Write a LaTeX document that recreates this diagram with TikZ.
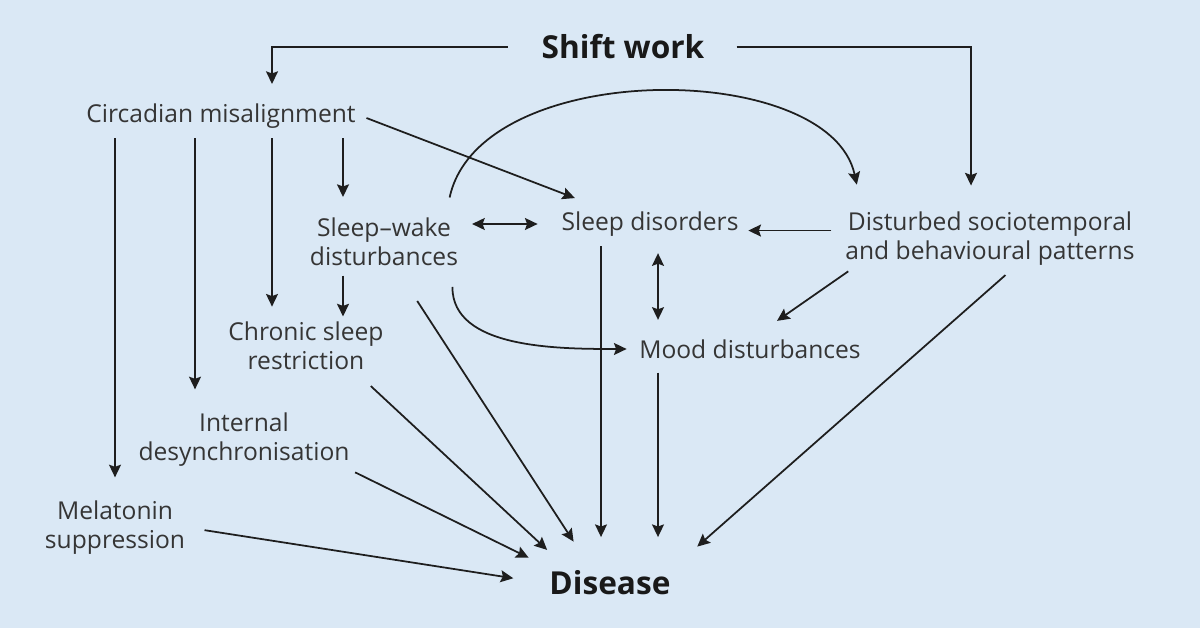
\documentclass[tikz,border=0pt]{standalone}
\usepackage{fontspec}
\setmainfont{Open Sans}
\usetikzlibrary{arrows.meta}
\definecolor{panel-bg}{HTML}{DAE8F5}
\definecolor{label-text}{HTML}{353535}
\definecolor{link-line}{HTML}{1E1E1E}

\begin{document}
\begin{tikzpicture}[x=0.025cm, y=-0.025cm,
    >={Stealth[length=9pt, width=8.5pt, inset=1.5pt]},
    box/.style={inner sep=4pt, outer sep=0pt, align=center, text=label-text,
      font=\fontsize{17.5}{20.5}\selectfont},
    key/.style={inner sep=4pt, outer sep=0pt, text=black!90,
      font=\fontsize{22.5}{26}\selectfont\bfseries},
    link/.style={draw=link-line, line width=1.25pt, ->}]
  \fill[panel-bg] (0,0) rectangle (1200,628);
  \useasboundingbox (0,0) rectangle (1200,628);

  \node[key] (shift) at (623,47) {Shift work};
  \node[box] (circ) at (221,116) {Circadian misalignment};
  \node[box] (sw) at (384,242) {Sleep–wake\\disturbances};
  \node[box] (sd) at (650,224) {Sleep disorders};
  \node[box] (dsp) at (990,239) {Disturbed sociotemporal\\and behavioural patterns};
  \node[box] (csr) at (306,346) {Chronic sleep\\restriction};
  \node[box] (mood) at (750,349) {Mood disturbances};
  \node[box] (ids) at (244,440) {Internal\\desynchronisation};
  \node[box] (mel) at (115,528) {Melatonin\\suppression};
  \node[key] (dis) at (610,583) {Disease};

  % shift work
  \draw[link, shorten <=20pt, shorten >=10pt] (shift.west) -| (272,0 |- circ.north);
  \draw[link, shorten <=19pt, shorten >=15pt] (shift.east) -| (971,0 |- dsp.north);

  % circadian misalignment
  \draw[link, shorten <=3pt, shorten >=13pt] (mel |- circ.south) -- (mel.north);
  \draw[link, shorten <=3pt, shorten >=13pt] (195,0 |- circ.south) -- (195,0 |- ids.north);
  \draw[link, shorten <=3pt, shorten >=7pt] (272,0 |- circ.south) -- (272,0 |- csr.north);
  \draw[link, shorten <=3pt, shorten >=11pt] (343,0 |- circ.south) -- (343,0 |- sw.north);
  \draw[link, shorten <=4pt] (circ.east) -- ([shift={(19,-8)}]sd.north west);

  % sleep disturbances
  \draw[link] ([shift={(-14,-15)}]sw.north east)
    .. controls +(30,-140) and +(-27,-126) .. ([shift={(17,-22)}]dsp.north west);
  \draw[link, <->, shorten <=6pt, shorten >=13pt] (sd.west -| sw.east) -- (sd.west);
  \draw[link, shorten <=6pt, shorten >=3pt] ([yshift=6pt]dsp.west) -- ([yshift=6pt]dsp.west -| sd.east);
  \draw[link, <->, shorten <=8pt, shorten >=10pt] (658,0 |- sd.south) -- (658,0 |- mood.north);
  \draw[link] ([xshift=6pt]dsp.south west) -- ([shift={(27,-13)}]mood.north);
  \draw[link, shorten <=3pt] (343,0 |- sw.south) -- (343,0 |- csr.north);
  \draw[link, shorten <=11pt, shorten >=5pt] ([xshift=-8pt]sw.south east) to[out=-90, in=180] (mood.west);

  % into disease
  \draw[link, shorten <=3pt, shorten >=20pt] (601,0 |- sd.south) -- (601,0 |- dis.north);
  \draw[link, shorten <=6pt, shorten >=20pt] (658,0 |- mood.south) -- (658,0 |- dis.north);
  \draw[link, shorten <=4pt, shorten >=20pt] ([xshift=14pt]dsp.south) -- (dis.north east);
  \draw[link, shorten <=25pt, shorten >=20pt] ([xshift=10pt]sw.south) -- ([xshift=-15pt]dis.north);
  \draw[link, shorten <=11pt, shorten >=16pt] ([xshift=38pt]csr.south) -- ([xshift=-33pt]dis.north);
  \draw[link, shorten >=12pt] (ids.south east) -- (dis.north west);
  \draw[link, shorten <=10pt, shorten >=22pt] (mel.east) -- (dis.west);
\end{tikzpicture}
\end{document}
